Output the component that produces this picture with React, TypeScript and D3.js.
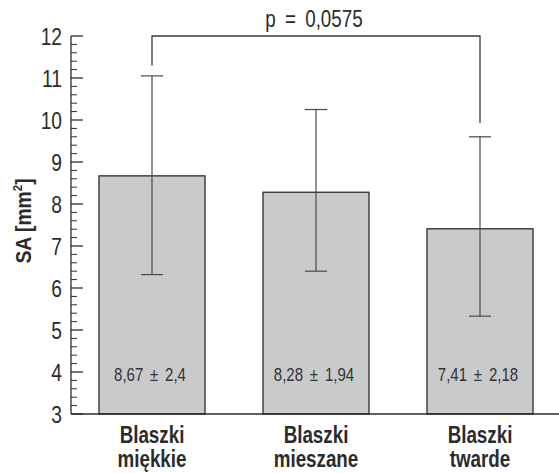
import React, { useEffect, useRef } from 'react';
import * as d3 from 'd3';

// dane
const categories = ['Blaszki miękkie', 'Blaszki mieszane', 'Blaszki twarde'];
const categoryLines = [['Blaszki', 'miękkie'], ['Blaszki', 'mieszane'], ['Blaszki', 'twarde']];
const means = [8.67, 8.28, 7.41];
const sds = [2.4, 1.94, 2.18];
const errHigh = [11.05, 10.25, 9.6];
const errLow = [6.32, 6.4, 5.33];
const yTicks = [3, 4, 5, 6, 7, 8, 9, 10, 11, 12];
const pLabel = 'p = 0,0575';
const bracketFrom = 0; // indeks słupka
const bracketTo = 2;
const bracketEnds = [11.3, 9.93]; // dolne końce nóżek klamry

const FONT = "'Liberation Sans', Arial, sans-serif";
const SX = 0.8; // zwężenie czcionki (oryginał: krój condensed)

const fmt = (v: number) => String(v).replace('.', ',');

const App = () => {
  const svgRef = useRef<SVGSVGElement>(null);

  useEffect(() => {
    const svg = d3.select(svgRef.current);
    svg.selectAll('*').remove();

    const width = 559;
    const height = 473;
    const margin = { top: 36, left: 71, bottom: 59 };

    const y = d3.scaleLinear().domain([3, 12]).range([height - margin.bottom, margin.top]);
    const pad = 0.3537;
    const x = d3.scaleBand<string>()
      .domain(categories)
      .range([70, 562])
      .paddingInner(pad)
      .paddingOuter(pad / 2);

    const g = svg.append('g').style('font-family', FONT);

    // tekst zwężony w poziomie
    const narrowText = (px: number, py: number, rot = 0, sx = SX) =>
      g.append('text')
        .attr('transform', `translate(${px},${py}) rotate(${rot}) scale(${sx},1)`)
        .attr('fill', '#2b2b2b');

    // słupki
    g.selectAll('rect.bar')
      .data(categories)
      .join('rect')
      .attr('class', 'bar')
      .attr('x', d => x(d)!)
      .attr('y', (d, i) => y(means[i]))
      .attr('width', x.bandwidth())
      .attr('height', (d, i) => y(3) - y(means[i]))
      .attr('fill', '#c9cacc')
      .attr('stroke', '#2b2b2b')
      .attr('stroke-width', 1.3);

    // słupki błędów
    categories.forEach((c, i) => {
      const cx = x(c)! + x.bandwidth() / 2;
      const eg = g.append('g').attr('stroke', '#4a4a4a').attr('stroke-width', 1.2);
      eg.append('line')
        .attr('x1', cx).attr('x2', cx)
        .attr('y1', y(errHigh[i])).attr('y2', y(errLow[i]));
      [errHigh[i], errLow[i]].forEach(v => {
        eg.append('line')
          .attr('x1', cx - 11).attr('x2', cx + 11)
          .attr('y1', y(v)).attr('y2', y(v));
      });

      narrowText(cx - 2, 381, 0, 0.86)
        .attr('text-anchor', 'middle')
        .attr('font-size', '17.5px')
        .attr('word-spacing', '3px')
        .attr('fill', '#333')
        .text(`${fmt(means[i])} ± ${fmt(sds[i])}`);

      categoryLines[i].forEach((line, k) => {
        narrowText(cx, 443 + k * 24)
          .attr('text-anchor', 'middle')
          .attr('font-size', '23.5px')
          .attr('font-weight', 'bold')
          .text(line);
      });
    });

    // oś Y
    const yAxis = g.append('g').attr('stroke', '#2b2b2b').attr('stroke-width', 1.3);
    yAxis.append('line')
      .attr('x1', margin.left).attr('x2', margin.left)
      .attr('y1', y(12)).attr('y2', y(3));
    d3.range(3, 12.001, 0.2).forEach(v => {
      const major = Math.abs(v - Math.round(v)) < 1e-6;
      yAxis.append('line')
        .attr('x1', margin.left).attr('x2', margin.left + (major ? 12 : 6))
        .attr('y1', y(v)).attr('y2', y(v))
        .attr('stroke-width', major ? 1.3 : 1);
    });
    yTicks.forEach(t => {
      narrowText(62, y(t))
        .attr('dy', '0.36em')
        .attr('text-anchor', 'end')
        .attr('font-size', '24px')
        .text(t);
    });

    // oś X
    g.append('line')
      .attr('x1', margin.left).attr('x2', width)
      .attr('y1', y(3)).attr('y2', y(3))
      .attr('stroke', '#2b2b2b').attr('stroke-width', 1.3);

    // tytuł osi Y
    const yl = narrowText(31, 221, -90, 0.88)
      .attr('text-anchor', 'middle')
      .attr('font-size', '22px')
      .attr('font-weight', 'bold');
    yl.append('tspan').text('SA [mm');
    yl.append('tspan').attr('font-size', '13px').attr('dy', '-9').text('2');
    yl.append('tspan').attr('dy', '9').text(']');

    // klamra istotności
    const x1 = x(categories[bracketFrom])! + x.bandwidth() / 2;
    const x2 = x(categories[bracketTo])! + x.bandwidth() / 2;
    g.append('path')
      .attr('d', `M${x1},${y(bracketEnds[0])}V${y(12)}H${x2}V${y(bracketEnds[1])}`)
      .attr('fill', 'none')
      .attr('stroke', '#3a3a3a')
      .attr('stroke-width', 1.3);
    narrowText(314, 27)
      .attr('text-anchor', 'middle')
      .attr('font-size', '23.5px')
      .attr('word-spacing', '5px')
      .text(pLabel);
  }, []);

  return (
    <svg ref={svgRef} width={559} height={473}
      style={{ position: 'absolute', left: 0, top: 0, background: '#fff' }} />
  );
};

export default App;
